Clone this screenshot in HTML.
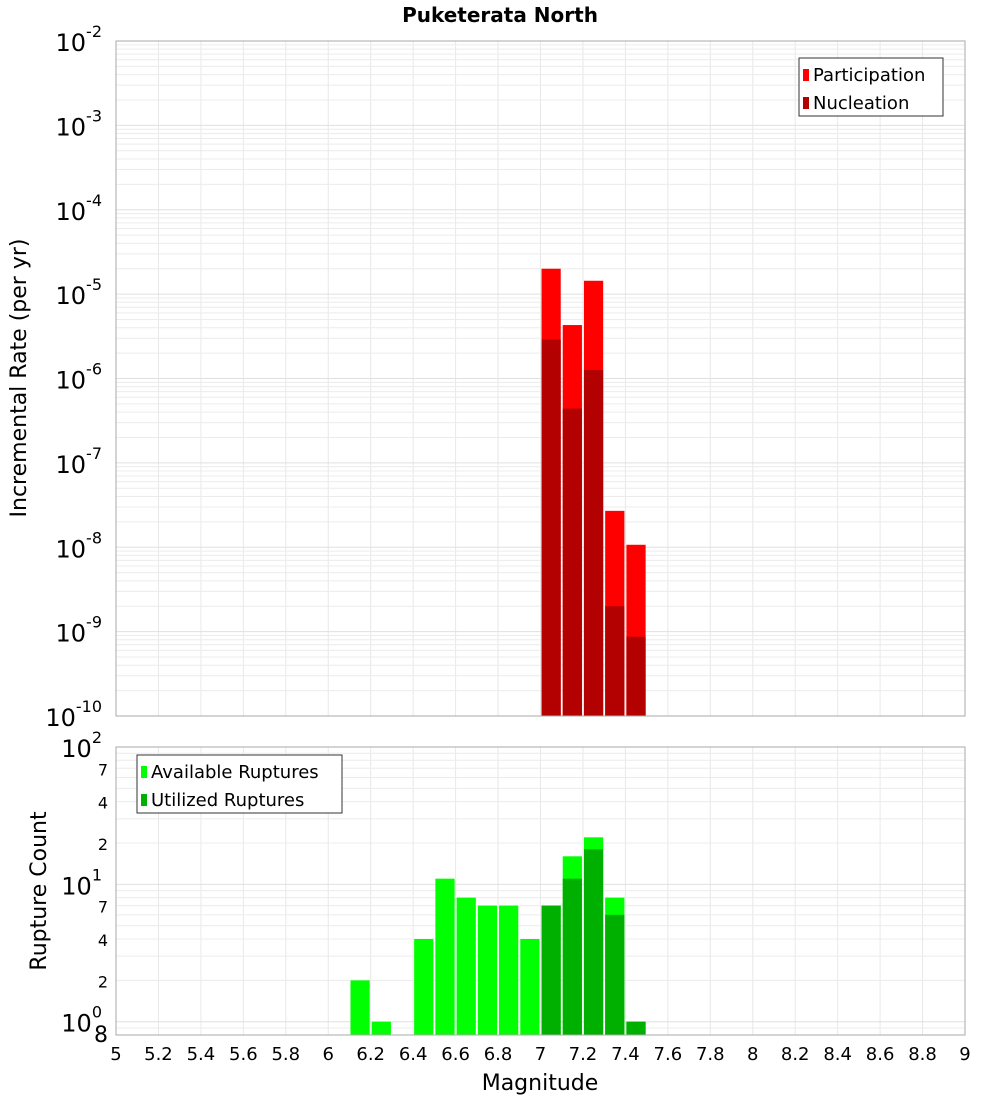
<!DOCTYPE html>
<html><head><meta charset="utf-8">
<style>
body{margin:0;background:#fff;}
svg text{font-family:"DejaVu Sans","Liberation Sans",sans-serif;}
</style></head>
<body>
<svg id="chart" width="1000" height="1100" xmlns="http://www.w3.org/2000/svg">
<text x="500" y="22" text-anchor="middle" font-size="20" font-weight="bold">Puketerata North</text>
<g id="topPlot"></g>
<g id="botPlot"></g>
<text transform="translate(26,378) rotate(-90)" text-anchor="middle" font-size="22">Incremental Rate (per yr)</text>
<text transform="translate(46,891) rotate(-90)" text-anchor="middle" font-size="22">Rupture Count</text>
<text x="540" y="1090" text-anchor="middle" font-size="22">Magnitude</text>
</svg>
<script>
const magBins = [7.0, 7.1, 7.2, 7.3, 7.4];
const participation = [2.0e-5, 4.3e-6, 1.44e-5, 2.7e-8, 1.07e-8];
const nucleation = [2.9e-6, 4.4e-7, 1.26e-6, 2.0e-9, 8.7e-10];
const countBins = [6.1, 6.2, 6.4, 6.5, 6.6, 6.7, 6.8, 6.9, 7.0, 7.1, 7.2, 7.3, 7.4];
const available = [2, 1, 4, 11, 8, 7, 7, 4, 7, 16, 22, 8, 1];
const utilized = [0, 0, 0, 0, 0, 0, 0, 0, 7, 11, 18, 6, 1];
const xTicks = [5,5.2,5.4,5.6,5.8,6,6.2,6.4,6.6,6.8,7,7.2,7.4,7.6,7.8,8,8.2,8.4,8.6,8.8,9];

const NS="http://www.w3.org/2000/svg";
const L=116,R=965;
const T1=41,B1=716,T2=747,B2=1035;
const x=m=>L+(m-5)/4*(R-L);
const y1=v=>T1+(-2-Math.log10(v))/8*(B1-T1);
const y2=v=>T2+(2-Math.log10(v))/(2-Math.log10(0.8))*(B2-T2);
function mk(tag,attrs,parent){const e=document.createElementNS(NS,tag);for(const k in attrs)e.setAttribute(k,attrs[k]);parent.appendChild(e);return e;}
const gTop=document.getElementById('topPlot'),gBot=document.getElementById('botPlot');

function grid(g,T,B,yf,lo,hi){
  xTicks.forEach(t=>{const l=mk('line',{x1:x(t),x2:x(t),y1:T,y2:B,stroke:'#e8e8e8'},g);
  
  });
  for(let d=lo;d<hi;d++)for(let k=1;k<10;k++){const v=k*Math.pow(10,d);const yy=yf(v);if(yy<T||yy>B)continue;
    const l=mk('line',{x1:L,x2:R,y1:yy,y2:yy,stroke:k==1?'#e0e0e0':'#ececec'},g);
    
    }
}
grid(gTop,T1,B1,y1,-10,-2);
grid(gBot,T2,B2,y2,-1,2);

magBins.forEach((m,i)=>{
  const r=mk('rect',{x:x(m)+1,y:y1(participation[i]),width:x(m+0.1)-x(m)-2,height:B1-y1(participation[i]),fill:'#ff0000'},gTop);
  
  
  const n=mk('rect',{x:x(m)+1,y:y1(nucleation[i]),width:x(m+0.1)-x(m)-2,height:B1-y1(nucleation[i]),fill:'#b30000'},gTop);
  
  
});
countBins.forEach((m,i)=>{
  const r=mk('rect',{x:x(m)+1,y:y2(available[i]),width:x(m+0.1)-x(m)-2,height:B2-y2(available[i]),fill:'#00ff00'},gBot);
  
  
  if(utilized[i]>0){
  const n=mk('rect',{x:x(m)+1,y:y2(utilized[i]),width:x(m+0.1)-x(m)-2,height:B2-y2(utilized[i]),fill:'#00b000'},gBot);
  
  }
});
mk('rect',{x:L,y:T1,width:R-L,height:B1-T1,fill:'none',stroke:'#aaaaaa'},gTop);
mk('rect',{x:L,y:T2,width:R-L,height:B2-T2,fill:'none',stroke:'#aaaaaa'},gBot);

for(let d=-10;d<=-2;d++){
  const t=mk('text',{x:102,y:y1(Math.pow(10,d))+10,'text-anchor':'end','font-size':24},gTop);
  
  
  t.textContent='10';
  const s=mk('tspan',{dy:-14,'font-size':16},t);s.textContent=String(d);
}
[[100,'2'],[10,'1'],[1,'0']].forEach(([v,e])=>{
  const t=mk('text',{x:102,y:y2(v)+10,'text-anchor':'end','font-size':24},gBot);
  
  
  t.textContent='10';
  const s=mk('tspan',{dy:-14,'font-size':16},t);s.textContent=e;
});
[70,40,20,7,4,2,0.8].forEach(v=>{
  const t=mk('text',{x:108,y:y2(v)+7,'text-anchor':'end','font-size':v==0.8?22:16},gBot);
  
  
  t.textContent=String(v>=1?(v>=10?v/10:v):8);
});
xTicks.forEach(t=>{
  const e=mk('text',{x:x(t),y:1060,'text-anchor':'middle','font-size':18},gBot);
  
  
  e.textContent=String(t);
});
function legend(g,lx,ly,w,items){
  const b=mk('rect',{x:lx,y:ly,width:w,height:58,fill:'#fff',stroke:'#333'},g);
  
  
  items.forEach(([c,lab],i)=>{
    const s=mk('rect',{x:lx+4,y:ly+11+i*28,width:6,height:12,fill:c},g);
    
    
    const t=mk('text',{x:lx+14,y:ly+23+i*28,'font-size':18},g);
    
    
    t.textContent=lab;
  });
}
legend(gTop,799,58,144,[['#ff0000','Participation'],['#b30000','Nucleation']]);
legend(gBot,137,755,205,[['#00ff00','Available Ruptures'],['#00b000','Utilized Ruptures']]);
</script>
</body></html>
